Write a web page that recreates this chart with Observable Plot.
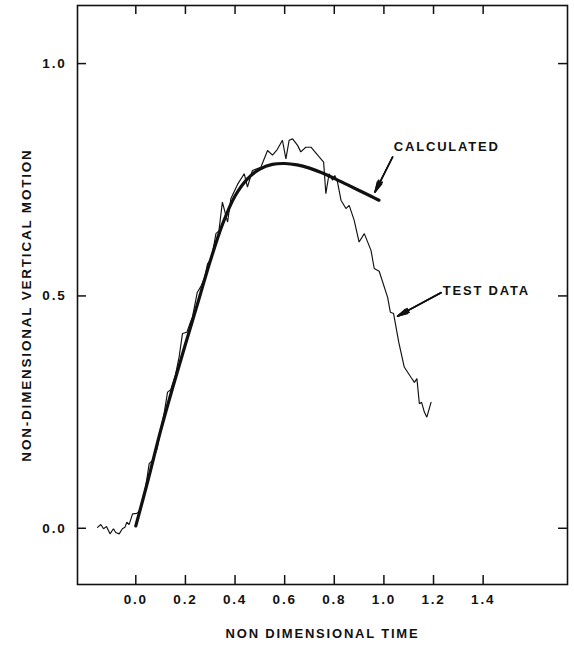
<!DOCTYPE html>
<html>
<head>
<meta charset="utf-8">
<script src="https://cdn.jsdelivr.net/npm/d3@7"></script>
<script src="https://cdn.jsdelivr.net/npm/@observablehq/plot@0.6"></script>
<style>
  html, body { margin: 0; padding: 0; background: #fff; }
  #chart svg { display: block; }
</style>
</head>
<body>
<div id="chart"></div>
<script>
// ---- Data ----
const calcTime = [0.0, 0.05, 0.10, 0.15, 0.20, 0.25, 0.30, 0.35, 0.40, 0.45, 0.50, 0.55, 0.60, 0.65, 0.70, 0.75, 0.80, 0.85, 0.90, 0.95, 0.98];
const calcMotion = [0.005, 0.105, 0.21, 0.305, 0.396, 0.485, 0.575, 0.655, 0.715, 0.752, 0.773, 0.783, 0.785, 0.782, 0.775, 0.765, 0.753, 0.740, 0.727, 0.714, 0.706];

const testTime = [-0.154, -0.141, -0.130, -0.118, -0.104, -0.090, -0.081, -0.067, -0.054, -0.044, -0.036, -0.027, -0.013, 0.004, 0.020, 0.040, 0.054, 0.067, 0.085, 0.100, 0.115, 0.128, 0.141, 0.160, 0.175, 0.188, 0.206, 0.218, 0.228, 0.248, 0.262, 0.278, 0.289, 0.305, 0.323, 0.335, 0.349, 0.370, 0.383, 0.410, 0.437, 0.450, 0.470, 0.504, 0.531, 0.551, 0.570, 0.591, 0.605, 0.618, 0.632, 0.652, 0.665, 0.685, 0.706, 0.739, 0.757, 0.766, 0.779, 0.793, 0.802, 0.813, 0.827, 0.847, 0.860, 0.880, 0.900, 0.921, 0.948, 0.961, 0.981, 1.015, 1.026, 1.039, 1.060, 1.082, 1.109, 1.123, 1.133, 1.143, 1.152, 1.163, 1.173, 1.190];
const testMotion = [0.002, 0.008, -0.001, 0.004, -0.012, -0.001, -0.009, -0.012, -0.001, 0.002, 0.013, 0.008, 0.031, 0.032, 0.040, 0.090, 0.139, 0.146, 0.170, 0.210, 0.250, 0.293, 0.298, 0.330, 0.370, 0.419, 0.422, 0.440, 0.454, 0.508, 0.520, 0.540, 0.569, 0.580, 0.634, 0.640, 0.702, 0.659, 0.709, 0.740, 0.763, 0.734, 0.770, 0.777, 0.813, 0.803, 0.815, 0.835, 0.795, 0.835, 0.838, 0.824, 0.810, 0.820, 0.820, 0.799, 0.788, 0.720, 0.763, 0.749, 0.759, 0.745, 0.706, 0.688, 0.695, 0.663, 0.616, 0.634, 0.598, 0.559, 0.553, 0.497, 0.465, 0.462, 0.400, 0.347, 0.325, 0.314, 0.322, 0.268, 0.271, 0.250, 0.239, 0.271];

const xTicks = [0.0, 0.2, 0.4, 0.6, 0.8, 1.0, 1.2, 1.4];
const yTicks = [0.0, 0.5, 1.0];
const xTitle = "NON DIMENSIONAL TIME";
const yTitle = "NON-DIMENSIONAL VERTICAL MOTION";

// annotations: label, label position, arrow start -> arrow tip
const noteLabels = ["CALCULATED", "TEST DATA"];
const noteX = [1.04, 1.237];
const noteY = [0.82, 0.512];
const arrowX1 = [1.035, 1.23];
const arrowY1 = [0.799, 0.507];
const arrowX2 = [0.964, 1.055];
const arrowY2 = [0.7235, 0.4565];

// ---- Build tables ----
const calc = calcTime.map((t, i) => ({t, v: calcMotion[i]}));
const test = testTime.map((t, i) => ({t, v: testMotion[i]}));
const notes = noteLabels.map((label, i) => ({label, x: noteX[i], y: noteY[i], x1: arrowX1[i], y1: arrowY1[i], x2: arrowX2[i], y2: arrowY2[i]}));

const fmt = d3.format(".1f");
const ink = "#111";

const W = 574, H = 646, mL = 77, mR = 7, mT = 5, mB = 62;
const fw = W - mL - mR, fh = H - mT - mB;
const T = 9; // inward tick length

const chart = Plot.plot({
  width: W,
  height: H,
  marginLeft: mL,
  marginRight: mR,
  marginTop: mT,
  marginBottom: mB,
  x: {domain: [-0.235, 1.74]},
  y: {domain: [-0.121, 1.125]},
  style: {
    fontFamily: "'Liberation Sans', Arial, sans-serif",
    fontWeight: "bold",
    fontSize: "13px",
    letterSpacing: "1.8px",
    color: ink,
    background: "#fff",
    overflow: "visible"
  },
  marks: [
    Plot.frame({stroke: ink, strokeWidth: 1.6}),
    // inward tick marks on all four sides
    Plot.ruleX(xTicks, {x: d => d, insetTop: fh - T, stroke: ink, strokeWidth: 1.5}),
    Plot.ruleX(xTicks, {x: d => d, insetBottom: fh - T, stroke: ink, strokeWidth: 1.5}),
    Plot.ruleY(yTicks, {y: d => d, insetRight: fw - T, stroke: ink, strokeWidth: 1.5}),
    Plot.ruleY(yTicks, {y: d => d, insetLeft: fw - T, stroke: ink, strokeWidth: 1.5}),
    // tick labels
    Plot.axisX({ticks: xTicks, tickSize: 0, tickPadding: 10, tickFormat: fmt, label: null, fill: ink, fontSize: 13.5}),
    Plot.axisY({ticks: yTicks, tickSize: 0, tickPadding: 11, tickFormat: fmt, label: null, fill: ink, fontSize: 13.5}),
    // axis titles
    Plot.text([xTitle], {frameAnchor: "bottom", dy: 49, text: d => d, fill: ink, fontSize: 13, lineAnchor: "middle", textAnchor: "middle"}),
    Plot.text([yTitle], {frameAnchor: "left", dx: -51, dy: 10, rotate: -90, text: d => d, fill: ink, fontSize: 13.5, lineAnchor: "middle", textAnchor: "middle", style: "letter-spacing:2.4px"}),
    // data
    Plot.line(test, {x: "t", y: "v", stroke: ink, strokeWidth: 1.15, strokeLinejoin: "miter"}),
    Plot.line(calc, {x: "t", y: "v", stroke: ink, strokeWidth: 3.2, curve: "catmull-rom"}),
    // annotations (filled-looking heads by stacking)
    Plot.arrow(notes, {x1: "x1", y1: "y1", x2: "x2", y2: "y2", stroke: ink, strokeWidth: 1.3, headLength: 12, headAngle: 28}),
    Plot.arrow(notes, {x1: "x1", y1: "y1", x2: "x2", y2: "y2", stroke: ink, strokeWidth: 1.6, headLength: 11.5, headAngle: 20}),
    Plot.arrow(notes, {x1: "x1", y1: "y1", x2: "x2", y2: "y2", stroke: ink, strokeWidth: 1.6, headLength: 11, headAngle: 10}),
    Plot.text(notes, {x: "x", y: "y", text: "label", textAnchor: "start", fill: ink, fontSize: 13, lineAnchor: "middle"})
  ]
});

document.getElementById("chart").appendChild(chart);
</script>
</body>
</html>
